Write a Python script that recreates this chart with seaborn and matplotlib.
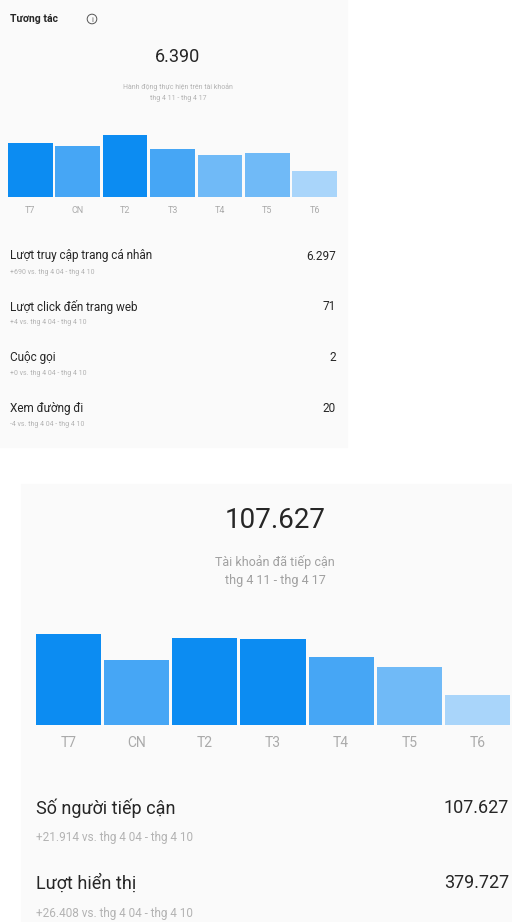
import matplotlib
matplotlib.use("Agg")
import matplotlib.pyplot as plt
from matplotlib.patches import Rectangle, Ellipse
import seaborn as sns
import pandas as pd

# ---- data ----
days = ["T7", "CN", "T2", "T3", "T4", "T5", "T6"]

interactions_total = "6.390"
interactions_daily = [1055, 997, 1212, 938, 821, 860, 507]
interaction_rows = ["Lượt truy cập trang cá nhân", "Lượt click đến trang web", "Cuộc gọi", "Xem đường đi"]
interaction_values = ["6.297", "71", "2", "20"]
interaction_changes = ["+690 vs. thg 4 04 - thg 4 10", "+4 vs. thg 4 04 - thg 4 10",
                       "+0 vs. thg 4 04 - thg 4 10", "-4 vs. thg 4 04 - thg 4 10"]

reach_total = "107.627"
reach_daily = [27300, 19500, 26100, 25800, 20400, 17400, 9000]
reach_rows = ["Số người tiếp cận", "Lượt hiển thị"]
reach_values = ["107.627", "379.727"]
reach_changes = ["+21.914 vs. thg 4 04 - thg 4 10", "+26.408 vs. thg 4 04 - thg 4 10"]

period = "thg 4 11 - thg 4 17"

# ---- styling ----
sns.set_style("white")
plt.rcParams["font.family"] = ["Roboto", "DejaVu Sans"]

DARK = "#0c8cf2"
MID = "#46a6f5"
LIGHT = "#70baf7"
PALE = "#a9d5fa"
upper_colors = [DARK, MID, DARK, MID, LIGHT, LIGHT, PALE]
lower_colors = [DARK, MID, DARK, DARK, MID, LIGHT, PALE]

W, H = 512, 922
fig = plt.figure(figsize=(W / 100, H / 100), dpi=100)
fig.patch.set_facecolor("white")


def fx(px):
    return px / W


def fy(py):
    return 1 - py / H


def box(x0, y0, x1, y1, color):
    fig.patches.append(Rectangle((fx(x0), fy(y1)), fx(x1 - x0), (y1 - y0) / H,
                                 transform=fig.transFigure, color=color, zorder=-5))


def bar_panel(x0, x1, top, base, values, colors, tick_size, tick_pad, width):
    ax = fig.add_axes([fx(x0), fy(base), fx(x1 - x0), (base - top) / H])
    ax.set_zorder(2)
    df = pd.DataFrame({"day": days, "value": values})
    sns.barplot(data=df, x="day", y="value", hue="day", palette=colors,
                width=width, legend=False, ax=ax, linewidth=0, saturation=1)
    ax.set_xlim(-width / 2, len(days) - 1 + width / 2)
    ax.set_ylim(0, max(values) * 1.16)
    ax.set_facecolor("none")
    ax.patch.set_alpha(0)
    for s in ax.spines.values():
        s.set_visible(False)
    ax.set_yticks([])
    ax.set_xlabel("")
    ax.set_ylabel("")
    ax.tick_params(axis="x", length=0, pad=tick_pad, labelsize=tick_size, labelcolor="#aaaaaa")
    return ax


DARK_TEXT = "#262626"
SUB = "#b3b3b3"

# ---- upper card: interactions ----
box(0, 0, 347, 447, "#fafafa")
fig.text(fx(10), fy(19), "Tương tác", fontsize=7.5, fontweight="bold", color=DARK_TEXT, va="center")
fig.patches.append(Ellipse((fx(92), fy(19)), 9.6 / W, 9.6 / H, transform=fig.transFigure,
                           fill=False, edgecolor="#555555", linewidth=0.7))
fig.text(fx(92), fy(19.5), "i", fontsize=5.5, color="#555555", ha="center", va="center")
fig.text(fx(178), fy(57), interactions_total, fontsize=13, color=DARK_TEXT, ha="center", va="center")
fig.text(fx(178), fy(87), "Hành động thực hiện trên tài khoản", fontsize=5, color=SUB, ha="center", va="center")
fig.text(fx(178), fy(99), period, fontsize=5, color=SUB, ha="center", va="center")

bar_panel(8, 337, 125, 197, interactions_daily, upper_colors, 6.5, 6.5, 0.94)

for i, (lab, val, chg) in enumerate(zip(interaction_rows, interaction_values, interaction_changes)):
    y = 256 + i * 50.7
    fig.text(fx(10), fy(y), lab, fontsize=8.5, color=DARK_TEXT, va="center")
    fig.text(fx(336), fy(y), val, fontsize=8.5, color=DARK_TEXT, va="center", ha="right")
    fig.text(fx(10), fy(y + 16), chg, fontsize=5, color=SUB, va="center")

# ---- lower card: reach ----
box(21, 484, 512, 922, "#fafafa")
fig.text(fx(275), fy(521), reach_total, fontsize=20, color=DARK_TEXT, ha="center", va="center")
fig.text(fx(275), fy(562), "Tài khoản đã tiếp cận", fontsize=9, color="#a0a0a0", ha="center", va="center")
fig.text(fx(275), fy(580), period, fontsize=9, color="#a0a0a0", ha="center", va="center")

bar_panel(36, 510, 620, 725, reach_daily, lower_colors, 10, 8, 0.955)

for i, (lab, val, chg) in enumerate(zip(reach_rows, reach_values, reach_changes)):
    y = 808 + i * 75
    fig.text(fx(36), fy(y), lab, fontsize=13, color=DARK_TEXT, va="center")
    fig.text(fx(509), fy(y), val, fontsize=13, color=DARK_TEXT, va="center", ha="right")
    fig.text(fx(36), fy(y + 30), chg, fontsize=8.5, color=SUB, va="center")

fig.savefig("out.png", dpi=100, facecolor="white")
